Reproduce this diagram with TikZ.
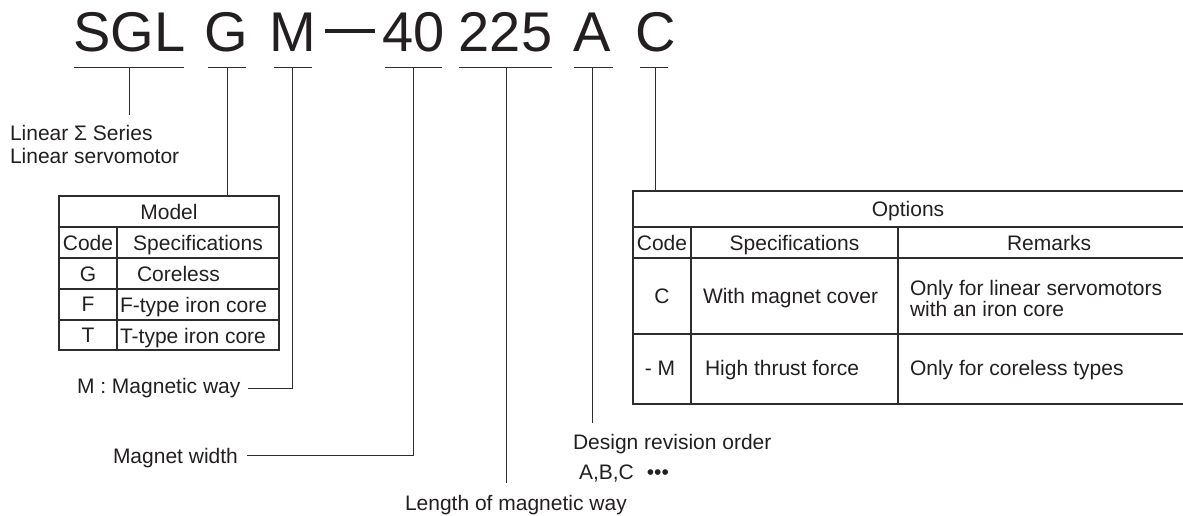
\documentclass[tikz,border=0pt]{standalone}
\usepackage{fontspec}
\setmainfont{Liberation Sans}
\definecolor{ink}{RGB}{35,31,32}
\definecolor{ln}{RGB}{45,45,45}
\begin{document}
\begin{tikzpicture}[x=1pt,y=-1pt,
  lbl/.style={font=\fontsize{21}{21}\selectfont, text=ink, inner sep=0pt, outer sep=0pt},
  big/.style={font=\fontsize{56}{56}\selectfont, text=ink, inner sep=0pt, anchor=base},
  conn/.style={draw=ln, line width=1pt},
  tbl/.style={draw=ln, line width=1.1pt, inner sep=0pt, outer sep=0pt, anchor=north west},
  grid/.style={draw=ln, line width=1.1pt}]
\useasboundingbox (0,0) rectangle (1183,516);

% header code
\node[big] (hSGL) at (129.5,52) {SGL};
\node[big] (hG) at (226,52) {G};
\node[big] (hM) at (292.5,52) {M};
\fill[ink] (325,29.3) rectangle (375,32.8);
\node[big] (h40) at (413.5,52) {40};
\node[big] (h225) at (505.5,52) {225};
\node[big] (hA) at (592,52) {A};
\node[big] (hC) at (656,52) {C};

% underlines
\draw[conn] (74,68) -- (184,68);
\draw[conn] (208,68) -- (246,68);
\draw[conn] (274,68) -- (312,68);
\draw[conn] (385,68) -- (442,68);
\draw[conn] (459,68) -- (552,68);
\draw[conn] (574,68) -- (613,68);
\draw[conn] (640,68) -- (668,68);

\coordinate (uSGL) at (129,68);
\coordinate (uG) at (227,68);
\coordinate (uM) at (292,68);
\coordinate (u40) at (413,68);
\coordinate (u225) at (506,68);
\coordinate (uA) at (592,68);
\coordinate (uC) at (655,68);

% tables
\node[tbl, minimum width=220pt, minimum height=154pt] (model) at (59,196) {};
\foreach \yy in {227,258,289,320} \draw[grid] (59,\yy) -- (279,\yy);
\draw[grid] (117,227) -- (117,350);

\node[tbl, minimum width=557pt, minimum height=213pt] (opt) at (633,191) {};
\foreach \yy in {227,258,334} \draw[grid] (633,\yy) -- (1190,\yy);
\draw[grid] (691,227) -- (691,404);
\draw[grid] (898,227) -- (898,404);

% model table text
\node[lbl, anchor=base] (tModel) at (169,219) {Model};
\node[lbl, anchor=base] (tCode1) at (88,250) {Code};
\node[lbl, anchor=base] (tSpec1) at (198,250) {Specifications};
\node[lbl, anchor=base] (tG) at (88,281) {G};
\node[lbl, anchor=base west] (tCoreless) at (137,281) {Coreless};
\node[lbl, anchor=base] (tF) at (88,311) {F};
\node[lbl, anchor=base west] (tFtype) at (120,312.5) {F-type iron core};
\node[lbl, anchor=base] (tT) at (88,342) {T};
\node[lbl, anchor=base west] (tTtype) at (120,343.5) {T-type iron core};

% options table text
\node[lbl, anchor=base] (tOptions) at (908,216.5) {Options};
\node[lbl, anchor=base] (tCode2) at (662,250) {Code};
\node[lbl, anchor=base] (tSpec2) at (794.5,250) {Specifications};
\node[lbl, anchor=base] (tRemarks) at (1049,250) {Remarks};
\node[lbl, anchor=base] (tC) at (662,303) {C};
\node[lbl, anchor=base west] (tCover) at (703,303) {With magnet cover};
\node[lbl, anchor=base west] (tRemC1) at (910,295) {Only for linear servomotors};
\node[lbl, anchor=base west] (tRemC2) at (910,316) {with an iron core};
\node[lbl, anchor=base] (tM) at (660,375) {- M};
\node[lbl, anchor=base west] (tThrust) at (705,375) {High thrust force};
\node[lbl, anchor=base west] (tRemM) at (910,375) {Only for coreless types};

% labels
\node[lbl, anchor=base west] (lSeries1) at (10,140) {Linear Σ Series};
\node[lbl, anchor=base west] (lSeries2) at (10,163) {Linear servomotor};
\node[lbl, anchor=base west] (lMag) at (77,393) {M : Magnetic way};
\node[lbl, anchor=base west] (lWidth) at (113,463) {Magnet width};
\node[lbl, anchor=base west] (lLength) at (405,510) {Length of magnetic way};
\node[lbl, anchor=base west] (lDesign) at (573,449) {Design revision order};
\node[lbl, anchor=base west] (lABC) at (579,479) {A,B,C\hspace{13pt}•••};

% connectors
\coordinate (eSGL) at (129,115);
\coordinate (eM) at (248,388);
\coordinate (e40) at (247,455);
\coordinate (e225) at (506,483);
\coordinate (eA) at (592,423);
\draw[conn] (uSGL) -- (eSGL);
\draw[conn] (uG) -- (uG |- model.north);
\draw[conn] (uM) |- (eM);
\draw[conn] (u40) |- (e40);
\draw[conn] (u225) -- (e225);
\draw[conn] (uA) -- (eA);
\draw[conn] (uC) -- (uC |- opt.north);
\end{tikzpicture}
\end{document}
